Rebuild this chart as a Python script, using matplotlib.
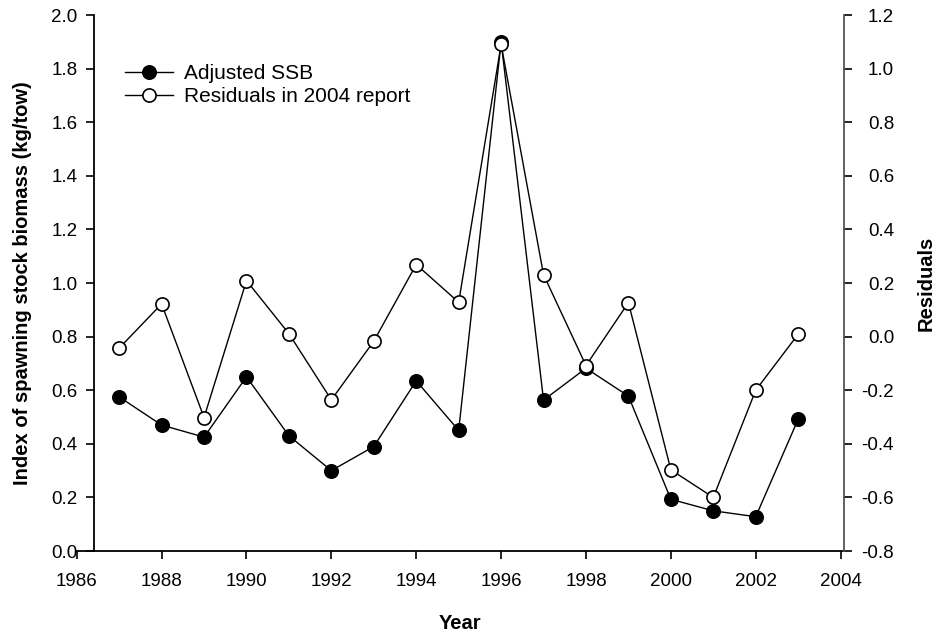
###############################################################################
#                             Importing Libraries                             #
###############################################################################
import matplotlib
matplotlib.use("Agg")
import matplotlib.pyplot as plt

###############################################################################
#                                   Data                                      #
###############################################################################
years = [1987, 1988, 1989, 1990, 1991, 1992, 1993, 1994, 1995,
         1996, 1997, 1998, 1999, 2000, 2001, 2002, 2003]

# Adjusted SSB (left axis, kg/tow)
adjusted_ssb = [0.575, 0.470, 0.425, 0.650, 0.430, 0.300, 0.390, 0.635, 0.450,
                1.900, 0.563, 0.682, 0.578, 0.193, 0.150, 0.128, 0.492]

# Residuals in 2004 report (right axis)
residuals = [-0.043, 0.122, -0.302, 0.209, 0.011, -0.236, -0.017, 0.269, 0.128,
             1.090, 0.231, -0.108, 0.127, -0.497, -0.600, -0.200, 0.009]

x_ticks = [1986, 1988, 1990, 1992, 1994, 1996, 1998, 2000, 2002, 2004]
left_ticks = [0.0, 0.2, 0.4, 0.6, 0.8, 1.0, 1.2, 1.4, 1.6, 1.8, 2.0]
right_ticks = [-0.8, -0.6, -0.4, -0.2, 0.0, 0.2, 0.4, 0.6, 0.8, 1.0, 1.2]

###############################################################################
#                                   Plot                                      #
###############################################################################
plt.rcParams['font.family'] = ['Liberation Sans', 'DejaVu Sans']

fig = plt.figure(figsize=(9.38, 6.33), dpi=100)
ax = fig.add_axes([0.0818, 0.1295, 0.8180, 0.8468])
ax2 = ax.twinx()

# spines first (moving a spine resets the ticks)
ax.spines['left'].set_position(('data', 1986.41))
ax.spines['top'].set_visible(False)
ax.spines['right'].set_visible(False)
ax2.spines['top'].set_visible(False)
ax2.spines['left'].set_visible(False)
ax2.spines['bottom'].set_visible(False)
ax2.spines['right'].set_color('#555555')
for sp in ['left', 'bottom']:
    ax.spines[sp].set_linewidth(1.3)
ax2.spines['right'].set_linewidth(1.3)

line1, = ax.plot(years, adjusted_ssb, color='black', linewidth=1.0,
                 marker='o', markersize=9.8, markerfacecolor='black',
                 markeredgecolor='black', label='Adjusted SSB', zorder=3)
line2, = ax2.plot(years, residuals, color='black', linewidth=1.0,
                  marker='o', markersize=9.5, markerfacecolor='white',
                  markeredgecolor='black', markeredgewidth=1.2,
                  label='Residuals in 2004 report', zorder=3)

# x axis
ax.set_xlim(1986, 2004.08)
ax.set_xticks(x_ticks)
ax.set_xticklabels([str(t) for t in x_ticks], fontsize=13.5)
ax.set_xlabel('Year', fontsize=14.5, fontweight='bold', labelpad=17)

# left axis
ax.set_ylim(0, 2.0)
ax.set_yticks(left_ticks)
ax.set_yticklabels(['%.1f' % t for t in left_ticks], fontsize=13.5)
ax.set_ylabel('Index of spawning stock biomass (kg/tow)', fontsize=14.5,
              fontweight='bold')
ax.yaxis.set_label_coords(-0.058, 0.5)

# right axis
ax2.set_ylim(-0.8, 1.2)
ax2.set_yticks(right_ticks)
ax2.set_yticklabels(['%.1f' % t for t in right_ticks], fontsize=13.5)
for lbl in ax2.get_yticklabels():
    lbl.set_horizontalalignment('right')
ax2.set_ylabel('Residuals', fontsize=14.5, fontweight='bold', rotation=90,
               labelpad=16)

ax.tick_params(axis='x', direction='out', length=6, width=1.2, pad=10)
ax.tick_params(axis='y', direction='out', length=6, width=1.2, pad=6)
ax2.tick_params(axis='y', direction='out', length=6, width=1.2, pad=30)

# legend
ax.legend([line1, line2], ['Adjusted SSB', 'Residuals in 2004 report'],
          loc='upper left', bbox_to_anchor=(0.063, 0.908), frameon=False,
          fontsize=15, handlelength=2.3, handletextpad=0.55,
          borderpad=0, borderaxespad=0, labelspacing=0.2)

plt.savefig('out.png', dpi=100)
